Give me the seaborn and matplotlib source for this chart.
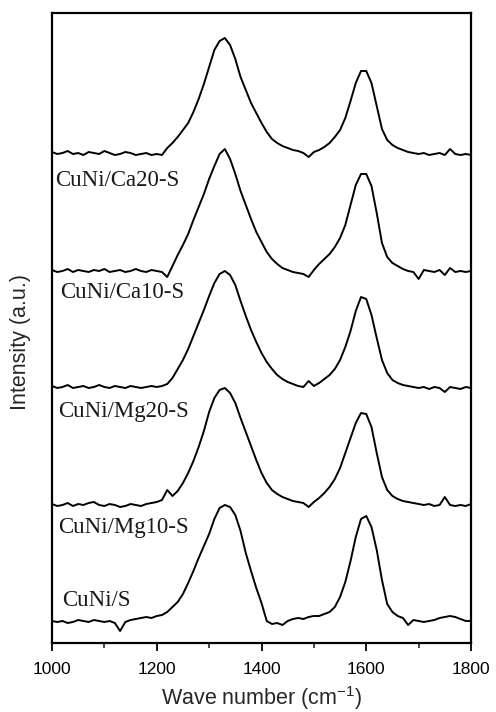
import matplotlib
matplotlib.use("Agg")
import matplotlib.pyplot as plt
from matplotlib.ticker import MultipleLocator
import seaborn as sns
import pandas as pd

# ---- data (arbitrary intensity units) ----
wavenumber = list(range(1000, 1801, 10))

cuni_ca20 = [491, 489, 490, 492, 489, 490, 488, 491, 490, 489, 492, 490, 488, 489, 491, 490, 488, 489, 490, 488, 489, 488,
             495, 500, 506, 513, 520, 531, 544, 559, 576, 593, 602, 605, 598, 584, 566, 553, 540, 530, 520, 511, 504, 500,
             497, 495, 493, 492, 490, 486, 491, 493, 496, 500, 506, 513, 525, 542, 560, 572, 572, 560, 537, 514, 503, 498,
             495, 493, 491, 490, 489, 490, 488, 489, 490, 488, 494, 489, 488, 489, 488]
cuni_ca10 = [373, 371, 372, 374, 371, 373, 372, 371, 373, 372, 374, 371, 372, 373, 371, 372, 374, 372, 371, 373, 372, 371,
             366, 377, 388, 398, 409, 423, 436, 449, 464, 477, 489, 494, 484, 469, 452, 438, 424, 411, 401, 391, 384, 379,
             375, 373, 371, 370, 369, 366, 373, 379, 384, 389, 396, 405, 418, 438, 458, 469, 469, 457, 430, 400, 386, 380,
             377, 374, 372, 371, 364, 373, 372, 371, 373, 368, 375, 371, 372, 371, 372]
cuni_mg20 = [257, 255, 256, 258, 255, 256, 257, 255, 256, 258, 256, 255, 257, 256, 255, 257, 256, 255, 256, 257, 256, 257,
             259, 265, 274, 283, 294, 307, 320, 333, 347, 360, 369, 372, 368, 358, 342, 327, 313, 301, 290, 281, 274, 268,
             264, 261, 259, 257, 256, 262, 257, 260, 264, 268, 274, 283, 296, 312, 332, 346, 344, 328, 305, 283, 270, 263,
             260, 258, 257, 256, 255, 256, 254, 256, 255, 251, 256, 255, 254, 256, 255]
cuni_mg10 = [139, 137, 138, 140, 137, 139, 138, 140, 141, 138, 137, 139, 138, 136, 137, 139, 138, 137, 139, 140, 141, 143,
             153, 147, 152, 160, 170, 182, 196, 212, 231, 245, 253, 255, 250, 240, 225, 211, 197, 183, 170, 160, 153, 149,
             146, 144, 142, 141, 140, 136, 141, 145, 150, 156, 164, 175, 190, 205, 220, 230, 229, 216, 190, 166, 153, 147,
             144, 142, 141, 140, 139, 138, 139, 137, 138, 146, 138, 137, 138, 137, 139]
cuni_s = [22, 21, 22, 20, 21, 23, 22, 21, 23, 22, 21, 22, 20, 12, 21, 23, 24, 25, 26, 25, 27, 28,
          31, 36, 41, 49, 60, 72, 85, 97, 109, 124, 135, 138, 136, 128, 112, 90, 72, 55, 40, 22, 19, 20,
          18, 22, 24, 25, 24, 26, 27, 27, 29, 31, 36, 46, 61, 82, 106, 124, 127, 116, 93, 63, 39, 31,
          27, 25, 18, 23, 22, 21, 22, 23, 25, 26, 27, 26, 24, 22, 22]

sample_names = ["CuNi/Ca20-S", "CuNi/Ca10-S", "CuNi/Mg20-S", "CuNi/Mg10-S", "CuNi/S"]
sample_series = [cuni_ca20, cuni_ca10, cuni_mg20, cuni_mg10, cuni_s]
# label anchor (x in cm-1, y in intensity units)
label_x = [1006, 1015, 1011, 1011, 1019]
label_y = [463, 350, 231, 115, 43]

x_ticks = [1000, 1200, 1400, 1600, 1800]

rows = []
for name, vals in zip(sample_names, sample_series):
    for w, v in zip(wavenumber, vals):
        rows.append({"wavenumber": w, "intensity": v, "sample": name})
df = pd.DataFrame(rows)

# ---- figure ----
sns.set_theme(style="ticks")
plt.rcParams["font.family"] = ["Liberation Sans", "DejaVu Sans"]
plt.rcParams["mathtext.default"] = "regular"

fig = plt.figure(figsize=(4.96, 7.12), dpi=100)
ax = fig.add_axes([52 / 496, 69 / 712, 419 / 496, 630 / 712])

for name in sample_names:
    sub = df[df["sample"] == name]
    sns.lineplot(data=sub, x="wavenumber", y="intensity", ax=ax, color="black",
                 linewidth=1.4, estimator=None, sort=False, legend=False)

for name, lx, ly in zip(sample_names, label_x, label_y):
    ax.text(lx, ly, name, fontsize=16.5, family=["Liberation Serif", "DejaVu Serif"],
            color="#1a1a1a", ha="left", va="center")

ax.set_xlim(1000, 1800)
ax.set_ylim(0, 630)
ax.set_xticks(x_ticks)
ax.set_xticklabels([str(t) for t in x_ticks])
ax.xaxis.set_minor_locator(MultipleLocator(100))
ax.set_yticks([])
ax.tick_params(axis="x", which="major", direction="out", length=6, width=1.3,
               labelsize=12.5, pad=8, colors="black")
ax.tick_params(axis="x", which="minor", direction="out", length=3.5, width=1.2)
for s in ax.spines.values():
    s.set_visible(True)
    s.set_linewidth(1.6)
    s.set_color("black")

ax.set_xlabel("Wave number (cm$^{-1}$)", fontsize=15.5, labelpad=5)
ax.set_ylabel("Intensity (a.u.)", fontsize=15.5)
ax.yaxis.set_label_coords(-0.05, 0.478)

fig.savefig("out.png", dpi=100)
